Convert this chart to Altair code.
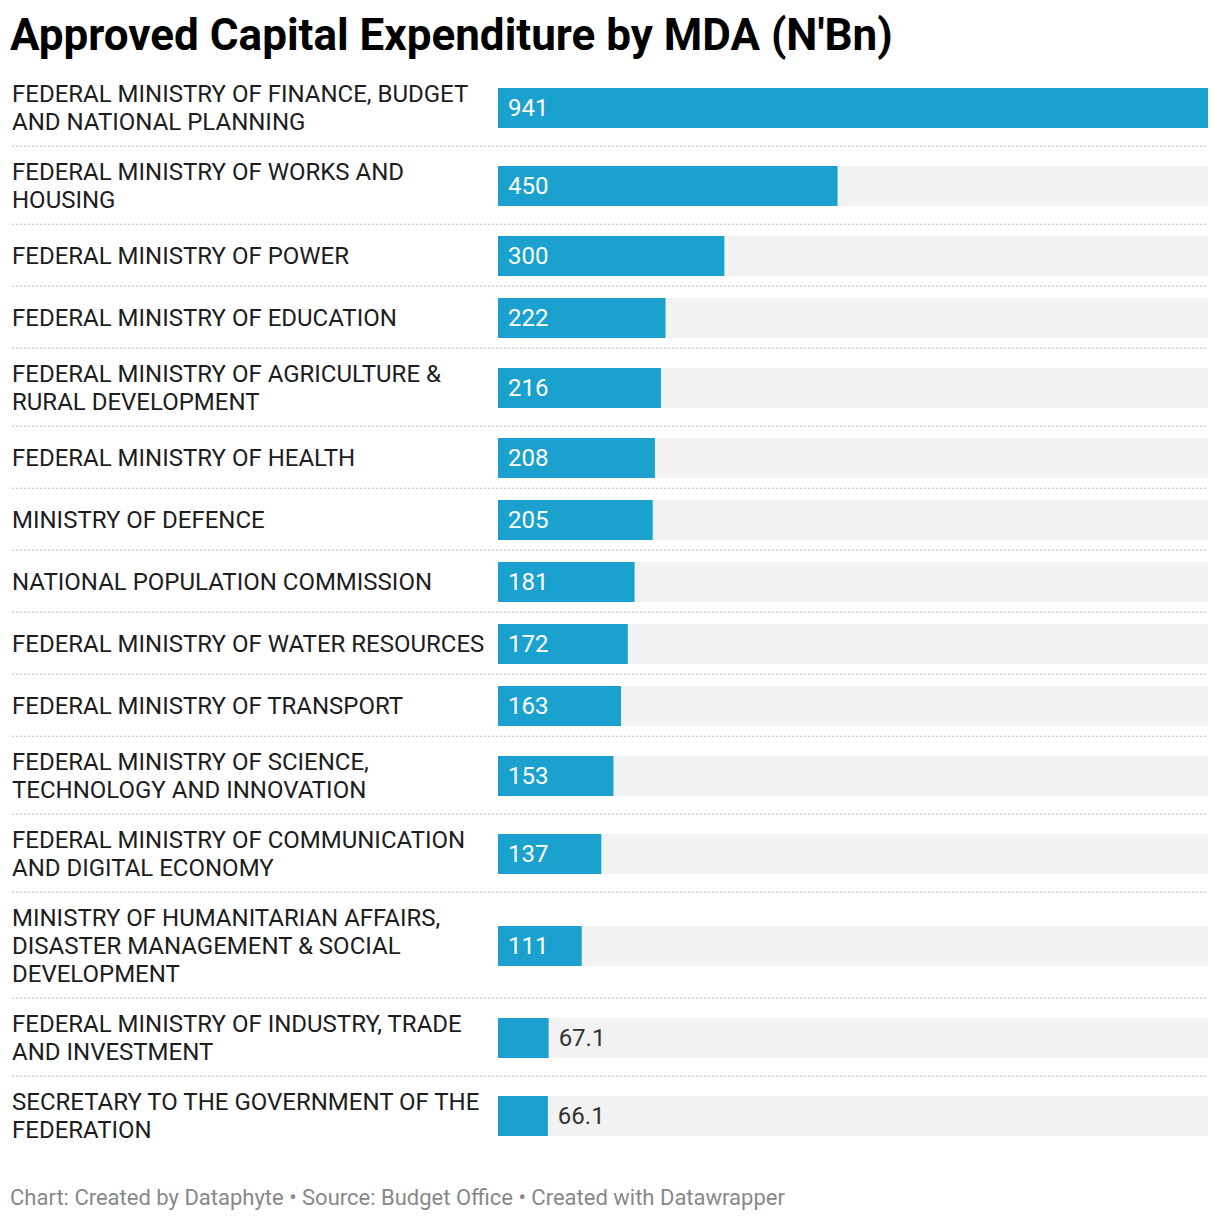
import altair as alt
import pandas as pd

title_text = "Approved Capital Expenditure by MDA (N'Bn)"
footer_text = "Chart: Created by Dataphyte \u2022 Source: Budget Office \u2022 Created with Datawrapper"

labels = [
    "FEDERAL MINISTRY OF FINANCE, BUDGET\nAND NATIONAL PLANNING",
    "FEDERAL MINISTRY OF WORKS AND\nHOUSING",
    "FEDERAL MINISTRY OF POWER",
    "FEDERAL MINISTRY OF EDUCATION",
    "FEDERAL MINISTRY OF AGRICULTURE &\nRURAL DEVELOPMENT",
    "FEDERAL MINISTRY OF HEALTH",
    "MINISTRY OF DEFENCE",
    "NATIONAL POPULATION COMMISSION",
    "FEDERAL MINISTRY OF WATER RESOURCES",
    "FEDERAL MINISTRY OF TRANSPORT",
    "FEDERAL MINISTRY OF SCIENCE,\nTECHNOLOGY AND INNOVATION",
    "FEDERAL MINISTRY OF COMMUNICATION\nAND DIGITAL ECONOMY",
    "MINISTRY OF HUMANITARIAN AFFAIRS,\nDISASTER MANAGEMENT & SOCIAL\nDEVELOPMENT",
    "FEDERAL MINISTRY OF INDUSTRY, TRADE\nAND INVESTMENT",
    "SECRETARY TO THE GOVERNMENT OF THE\nFEDERATION",
]
values = [941, 450, 300, 222, 216, 208, 205, 181, 172, 163, 153, 137, 111, 67.1, 66.1]

df = pd.DataFrame({"label": labels, "value": values, "order": list(range(len(labels)))})

W = 1200
BAR_COLOR = "#1aa1ce"
BG_COLOR = "#f2f2f2"
TEXT_COLOR = "#1d1d1d"
FONT = "Roboto"
LINE_H = 28

xscale = alt.Scale(domain=[0, max(values)], range=[490, W], nice=False, zero=True)


def row_panel(i, last):
    lines = labels[i].count("\n") + 1
    h = max(40, LINE_H * lines) + 22
    base = (
        alt.Chart(df)
        .transform_joinaggregate(maxv="max(value)")
        .transform_filter(alt.datum.order == i)
        .transform_calculate(lx="datum.value > 80 ? 0 : datum.value")
    )
    y = alt.Y("label:N", axis=None)
    bg = base.mark_bar(size=40, color=BG_COLOR).encode(
        x=alt.X("maxv:Q", scale=xscale, axis=None), x2=alt.datum(0), y=y
    )
    bar = base.mark_bar(size=40, color=BAR_COLOR).encode(
        x=alt.X("value:Q", scale=xscale, axis=None), x2=alt.datum(0), y=y
    )
    lab = base.mark_text(
        align="left", baseline="middle", font=FONT, fontSize=24, lineHeight=LINE_H,
        lineBreak="\n", color=TEXT_COLOR, dy=-(lines - 1) * LINE_H / 2 + 1,
    ).encode(text="label:N", x=alt.value(4), y=y)
    val = base.mark_text(
        align="left", baseline="middle", font=FONT, fontSize=24, dx=10, dy=1,
    ).encode(
        text="value:Q",
        x=alt.X("lx:Q", scale=xscale, axis=None),
        y=y,
        color=alt.condition(alt.datum.value > 80, alt.value("#ffffff"), alt.value("#333333")),
    )
    layers = [bg, bar, lab, val]
    if not last:
        sep = base.mark_rule(color="#cfcfcf", strokeDash=[2, 2], strokeWidth=1.5).encode(
            x=alt.value(4), x2=alt.value(W), y=alt.value(h - 0.75)
        )
        layers.append(sep)
    return alt.layer(*layers).properties(width=W, height=h)


title_panel = (
    alt.Chart(pd.DataFrame({"t": [title_text]}))
    .mark_text(align="left", baseline="alphabetic", font=FONT, fontSize=44,
               fontWeight="bold", color="#000000")
    .encode(text="t:N", x=alt.value(2), y=alt.value(42))
    .properties(width=W, height=61)
)

footer_panel = (
    alt.Chart(pd.DataFrame({"t": [footer_text]}))
    .mark_text(align="left", baseline="alphabetic", font=FONT, fontSize=22, color="#888888")
    .encode(text="t:N", x=alt.value(2), y=alt.value(50))
    .properties(width=W, height=56)
)

panels = [title_panel] + [row_panel(i, i == len(labels) - 1) for i in range(len(labels))] + [footer_panel]

chart = (
    alt.vconcat(*panels, spacing=0)
    .properties(padding=0, background="#ffffff")
    .configure_view(stroke=None)
)

chart.save("out.html", embed_options={"renderer": "svg", "actions": False})
